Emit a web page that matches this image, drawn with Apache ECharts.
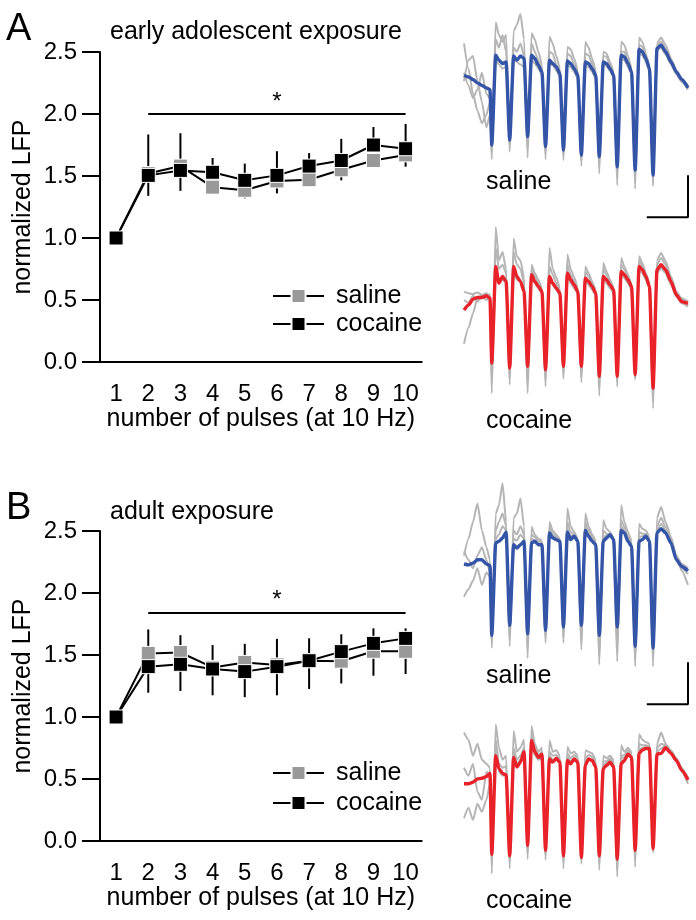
<!DOCTYPE html>
<html><head><meta charset="utf-8">
<script src="https://cdn.jsdelivr.net/npm/echarts@6/dist/echarts.min.js"></script>
<style>html,body{margin:0;padding:0;background:#fff}#c{width:696px;height:920px}</style>
</head><body><div id="c"></div>
<script>
// ---------- summary data ----------
const pulses = ['1','2','3','4','5','6','7','8','9','10'];
const adolSaline   = [1.00, 1.52, 1.58, 1.41, 1.385, 1.46, 1.47, 1.55, 1.625, 1.67];
const adolCocaine  = [1.00, 1.505, 1.545, 1.53, 1.465, 1.505, 1.58, 1.625, 1.75, 1.72];
const adolSalineErr  = [0, 0.18, 0.20, 0.04, 0.065, 0.10, 0.03, 0.085, 0.04, 0.095];
const adolCocaineErr = [0, 0.33, 0.30, 0.115, 0.135, 0.195, 0.105, 0.175, 0.145, 0.20];
const adultSaline  = [1.00, 1.513, 1.52, 1.40, 1.44, 1.42, 1.454, 1.45, 1.53, 1.53];
const adultCocaine = [1.00, 1.406, 1.425, 1.387, 1.366, 1.406, 1.454, 1.527, 1.594, 1.634];
const adultSalineErr  = [0, 0.317, 0.31, 0.225, 0.28, 0.245, 0.228, 0.18, 0.197, 0.183];
const adultCocaineErr = [0, 0.30, 0.235, 0.193, 0.224, 0.224, 0.181, 0.14, 0.121, 0.081];
const adolSig  = ['2', '10', 2.0];
const adultSig = ['2', '10', 1.84];

// ---------- LFP traces (time in ms, voltage in mV) ----------
const traceTimes = [-155,-130,-105,-80,-55,-30,-10,
  0,22,40,60,80, 100,122,140,160,180, 200,222,240,260,280, 300,322,340,360,380,
  400,422,440,460,480, 500,522,540,560,580, 600,622,640,660,680, 700,722,740,760,780,
  800,822,840,860,880, 900,922,945,970,1000,1030,1060,1095];
const scaleBarTimes = [1095, 1095, 865];
const scaleBarVolts = [-1.17, -1.67, -1.67];

const adolSalineMean = [0.02,0,-0.03,-0.07,-0.10,-0.13,-0.15,
  -0.81,0.26,0.20,0.16,0.18, -0.75,0.25,0.20,0.25,0.22, -0.71,0.26,0.22,0.14,0.06,
  -0.83,0.20,0.16,0.12,0.04, -0.87,0.19,0.16,0.10,0.02, -0.93,0.18,0.16,0.10,0.02,
  -0.95,0.18,0.16,0.10,0.02, -1.07,0.26,0.24,0.16,0.06, -1.11,0.33,0.30,0.22,0.10,
  -1.17,0.34,0.38,0.30,0.18,0.06,-0.03,-0.13];
const adolSalineG1 = [0.40,0.10,-0.20,-0.40,-0.55,-0.45,-0.30,
  -0.98,0.65,0.50,0.42,0.50, -0.89,0.55,0.62,0.75,0.45, -0.96,0.52,0.45,0.30,0.15,
  -0.98,0.48,0.40,0.25,0.10, -0.99,0.36,0.33,0.22,0.08, -1.06,0.42,0.35,0.22,0.08,
  -1.15,0.30,0.28,0.18,0.06, -1.29,0.42,0.38,0.25,0.10, -1.33,0.47,0.42,0.28,0.12,
  -1.27,0.40,0.47,0.38,0.22,0.08,-0.02,-0.10];
const adolSalineG2 = [-0.05,0.20,0.25,-0.05,-0.30,-0.60,-0.45,
  -0.90,0.45,0.35,0.50,0.30, -0.85,0.35,0.30,0.40,0.25, -0.85,0.40,0.30,0.20,0.08,
  -0.92,0.30,0.28,0.15,0.05, -0.95,0.28,0.25,0.15,0.04, -1.00,0.28,0.26,0.16,0.05,
  -1.05,0.25,0.24,0.14,0.03, -1.20,0.30,0.30,0.20,0.08, -1.25,0.38,0.36,0.24,0.10,
  -1.30,0.36,0.42,0.34,0.20,0.06,-0.04,-0.12];
const adolSalineG3 = [0.05,-0.10,-0.25,-0.15,0.05,-0.20,-0.25,
  -0.85,0.20,0.15,0.10,0.12, -0.80,0.22,0.18,0.15,0.12, -0.78,0.20,0.16,0.10,0.02,
  -0.88,0.16,0.14,0.08,0.00, -0.92,0.15,0.12,0.06,-0.02, -0.98,0.14,0.12,0.06,-0.02,
  -1.00,0.15,0.13,0.07,0.00, -1.10,0.22,0.20,0.12,0.03, -1.15,0.28,0.26,0.18,0.06,
  -1.20,0.32,0.35,0.27,0.15,0.03,-0.06,-0.15];

const adolCocaineMean = [-0.14,-0.08,-0.01,0.01,0.01,0.03,0,
  -0.77,0.38,0.18,0.26,0.20, -0.83,0.38,0.26,0.20,0.08, -0.81,0.28,0.20,0.14,0.08,
  -0.85,0.26,0.18,0.12,0.06, -0.81,0.30,0.22,0.16,0.08, -0.81,0.24,0.20,0.14,0.06,
  -0.93,0.26,0.22,0.16,0.10, -0.93,0.32,0.28,0.22,0.14, -0.91,0.38,0.34,0.26,0.14,
  -1.07,0.34,0.40,0.34,0.20,0.04,-0.04,-0.06];
const adolCocaineG1 = [0.08,0.06,0.05,0.07,0.04,0.06,0.02,
  -1.13,0.85,0.45,0.55,0.35, -1.03,0.71,0.50,0.45,0.25, -1.13,0.40,0.30,0.22,0.12,
  -1.05,0.60,0.35,0.25,0.12, -0.96,0.52,0.35,0.25,0.12, -1.00,0.38,0.30,0.20,0.10,
  -1.16,0.42,0.32,0.22,0.12, -1.05,0.48,0.38,0.28,0.16, -0.97,0.50,0.42,0.30,0.16,
  -1.31,0.45,0.54,0.44,0.26,0.08,0.00,-0.04];
const adolCocaineG2 = [-0.54,-0.35,-0.18,0.00,0.04,0.02,0.05,
  -1.00,0.60,0.35,0.40,0.30, -0.95,0.55,0.40,0.35,0.18, -1.00,0.35,0.26,0.18,0.10,
  -0.98,0.38,0.28,0.18,0.08, -0.92,0.40,0.28,0.20,0.10, -0.95,0.32,0.26,0.18,0.08,
  -1.05,0.35,0.28,0.20,0.12, -1.00,0.40,0.34,0.26,0.15, -0.95,0.45,0.38,0.28,0.15,
  -1.20,0.40,0.48,0.40,0.24,0.06,-0.02,-0.08];
const adolCocaineG3 = [-0.02,-0.05,0.03,-0.04,0.02,-0.02,0.03,
  -0.90,0.30,0.20,0.22,0.18, -0.90,0.30,0.22,0.20,0.10, -0.92,0.25,0.18,0.12,0.06,
  -0.92,0.22,0.16,0.10,0.04, -0.88,0.25,0.18,0.12,0.06, -0.90,0.20,0.16,0.10,0.04,
  -1.00,0.22,0.18,0.12,0.06, -0.98,0.28,0.24,0.18,0.10, -0.93,0.33,0.30,0.22,0.12,
  -1.12,0.30,0.36,0.30,0.16,0.02,-0.06,-0.10];

const adultSalineMean = [0,-0.01,0.01,0.05,0.05,0,-0.02,
  -0.85,0.25,0.27,0.31,0.38, -0.73,0.23,0.19,0.23,0.27, -0.83,0.25,0.27,0.23,0.23,
  -0.79,0.37,0.31,0.29,0.27, -0.75,0.38,0.29,0.33,0.27, -0.73,0.40,0.33,0.27,0.23,
  -0.85,0.27,0.31,0.35,0.29, -0.75,0.40,0.37,0.27,0.21, -0.98,0.27,0.29,0.33,0.27,
  -1.00,0.37,0.42,0.37,0.25,0.05,-0.03,-0.08];
const adultSalineG1 = [0.10,0.30,0.50,0.72,0.40,0.20,0.05,
  -1.00,0.60,0.70,0.96,0.50, -0.98,0.55,0.60,0.78,0.45, -1.12,0.44,0.35,0.30,0.28,
  -0.94,0.50,0.40,0.35,0.30, -0.94,0.66,0.45,0.38,0.30, -1.02,0.60,0.45,0.35,0.28,
  -1.20,0.52,0.42,0.38,0.30, -1.16,0.70,0.50,0.38,0.28, -1.22,0.48,0.42,0.40,0.32,
  -1.22,0.55,0.68,0.50,0.32,0.10,0.00,-0.05];
const adultSalineG2 = [-0.39,-0.30,-0.20,-0.05,-0.25,-0.10,-0.15,
  -0.95,0.40,0.50,0.60,0.45, -0.90,0.40,0.35,0.45,0.35, -1.00,0.35,0.32,0.28,0.25,
  -0.90,0.45,0.36,0.32,0.28, -0.88,0.50,0.38,0.35,0.28, -0.95,0.50,0.40,0.32,0.25,
  -1.10,0.40,0.36,0.34,0.28, -1.05,0.52,0.44,0.32,0.24, -1.15,0.38,0.36,0.36,0.28,
  -1.15,0.45,0.55,0.44,0.28,0.08,-0.08,-0.25];
const adultSalineG3 = [0.15,0.05,-0.05,0.10,0.20,0.05,-0.10,
  -0.90,0.30,0.35,0.45,0.40, -0.85,0.30,0.28,0.35,0.30, -0.95,0.30,0.28,0.25,0.22,
  -0.85,0.40,0.33,0.30,0.27, -0.82,0.42,0.33,0.35,0.27, -0.85,0.44,0.36,0.30,0.24,
  -1.00,0.32,0.34,0.36,0.28, -0.90,0.45,0.40,0.30,0.22, -1.10,0.32,0.33,0.35,0.28,
  -1.10,0.40,0.48,0.40,0.26,0.04,-0.05,-0.12];

const adultCocaineMean = [0,0,0.02,0.06,0.07,0.09,0.13,
  -0.88,0.35,0.19,0.13,0.11, -0.90,0.33,0.21,0.27,0.40, -0.77,0.54,0.40,0.33,0.37,
  -0.83,0.31,0.27,0.32,0.27, -0.90,0.29,0.25,0.31,0.27, -0.92,0.23,0.31,0.29,0.21,
  -0.90,0.19,0.23,0.27,0.21, -0.94,0.25,0.29,0.37,0.33, -0.83,0.38,0.42,0.44,0.44,
  -0.81,0.37,0.38,0.45,0.38,0.29,0.17,0.05];
const adultCocaineG1 = [0.64,0.55,0.35,0.50,0.30,0.25,0.20,
  -1.12,0.74,0.45,0.30,0.35, -1.06,0.66,0.40,0.45,0.55, -0.94,0.72,0.50,0.40,0.45,
  -0.95,0.54,0.40,0.42,0.35, -1.06,0.46,0.38,0.40,0.35, -1.00,0.42,0.40,0.38,0.30,
  -1.08,0.35,0.32,0.35,0.30, -1.16,0.48,0.40,0.45,0.40, -1.04,0.62,0.55,0.52,0.50,
  -0.86,0.50,0.64,0.50,0.40,0.28,0.18,0.08];
const adultCocaineG2 = [-0.43,-0.30,-0.45,-0.25,-0.35,-0.20,0.00,
  -1.00,0.55,0.25,0.20,0.22, -0.98,0.45,0.30,0.35,0.45, -0.88,0.60,0.45,0.36,0.40,
  -0.90,0.40,0.35,0.36,0.30, -0.98,0.38,0.32,0.36,0.32, -0.96,0.32,0.36,0.34,0.26,
  -1.00,0.28,0.28,0.32,0.26, -1.08,0.35,0.36,0.42,0.38, -0.95,0.50,0.48,0.48,0.47,
  -0.84,0.45,0.50,0.48,0.40,0.30,0.15,0.00];
const adultCocaineG3 = [0.20,0.10,0.25,-0.10,-0.20,0.15,0.10,
  -0.95,0.45,0.15,0.10,0.12, -0.95,0.40,0.25,0.30,0.35, -0.85,0.45,0.36,0.30,0.32,
  -0.88,0.35,0.30,0.30,0.25, -0.95,0.34,0.28,0.32,0.28, -0.95,0.28,0.30,0.30,0.22,
  -0.95,0.24,0.26,0.30,0.24, -1.00,0.32,0.33,0.40,0.35, -0.90,0.42,0.45,0.46,0.45,
  -0.82,0.40,0.44,0.48,0.42,0.32,0.20,0.04];

// ---------- chart ----------
const FONT = 'Liberation Sans';
const chart = echarts.init(document.getElementById('c'), null, {renderer: 'canvas'});

const mainGrids = [{left:100, top:52, width:321.7, height:310}, {left:100, top:531, width:321.7, height:310}];
const traceGrids = [
  {left:464, top:1.4, width:224, height:218.4},
  {left:464, top:222.7, width:224, height:218.4},
  {left:464, top:488.4, width:224, height:218.4},
  {left:464, top:711.7, width:224, height:218.4}
];
const grids = [mainGrids[0], traceGrids[0], traceGrids[1], mainGrids[1], traceGrids[2], traceGrids[3]];

const xAxes = [], yAxes = [], series = [];
function mainAxes(gi){
  xAxes.push({type:'category', gridIndex:gi, data:pulses, boundaryGap:true,
    axisLine:{lineStyle:{color:'#000', width:2}},
    axisTick:{length:17, interval:0, lineStyle:{width:2, color:'#000'}},
    axisLabel:{color:'#000', fontSize:24, fontFamily:FONT, margin:20, interval:0},
    splitLine:{show:false},
    name:'number of pulses (at 10 Hz)', nameLocation:'middle', nameGap:45,
    nameTextStyle:{color:'#000', fontSize:25, fontFamily:FONT}});
  yAxes.push({type:'value', gridIndex:gi, min:0, max:2.5, interval:0.5,
    axisLine:{show:true, lineStyle:{color:'#000', width:2}},
    axisTick:{show:true, length:18, lineStyle:{width:2, color:'#000'}},
    splitLine:{show:false},
    axisLabel:{color:'#000', fontSize:24, fontFamily:FONT, margin:23, formatter:v=>v.toFixed(1)},
    name:'normalized LFP', nameLocation:'middle', nameGap:64,
    nameTextStyle:{color:'#000', fontSize:25, fontFamily:FONT}});
}
function traceAxes(gi){
  xAxes.push({type:'value', gridIndex:gi, min:-155, max:1095, show:false});
  yAxes.push({type:'value', gridIndex:gi, min:-1.7, max:0.9, show:false});
}
mainAxes(0); traceAxes(1); traceAxes(2); mainAxes(3); traceAxes(4); traceAxes(5);

function errSeries(ax, vals, errs, dir){
  const data = [];
  vals.forEach((v,i)=>{ if (errs[i] > 0) data.push([i, v, v + dir*errs[i]]); });
  return {type:'custom', xAxisIndex:ax, yAxisIndex:ax, data, z:2, silent:true, clip:false,
    renderItem:(params, api)=>{
      const a = api.coord([api.value(0), api.value(1)]);
      const b = api.coord([api.value(0), api.value(2)]);
      return {type:'line', shape:{x1:a[0], y1:a[1], x2:b[0], y2:b[1]},
        style:{stroke:'#000', lineWidth:2}};
    }};
}
function mainSeries(ax, sal, coc, salErr, cocErr, sig){
  series.push(errSeries(ax, sal, salErr, -1));
  series.push(errSeries(ax, coc, cocErr, 1));
  series.push({type:'line', name:'saline', xAxisIndex:ax, yAxisIndex:ax, data:sal,
    symbol:'rect', symbolSize:14, z:3,
    lineStyle:{color:'#000', width:2},
    itemStyle:{color:'#999', borderColor:'#fff', borderWidth:1}});
  series.push({type:'line', name:'cocaine', xAxisIndex:ax, yAxisIndex:ax, data:coc,
    symbol:'rect', symbolSize:14, z:4,
    lineStyle:{color:'#000', width:2},
    itemStyle:{color:'#000', borderColor:'#fff', borderWidth:1},
    markLine:{silent:true, symbol:'none', animation:false,
      lineStyle:{color:'#000', width:2, type:'solid'},
      label:{show:true, position:'middle', formatter:'*', color:'#000', fontSize:24, fontFamily:FONT, distance:0},
      data:[[{coord:[sig[0], sig[2]]}, {coord:[sig[1], sig[2]]}]]}});
}
mainSeries(0, adolSaline, adolCocaine, adolSalineErr, adolCocaineErr, adolSig);
mainSeries(3, adultSaline, adultCocaine, adultSalineErr, adultCocaineErr, adultSig);

function pairs(t, v){ return t.map((x,i)=>[x, v[i]]); }
function traceSeries(ax, grays, mean, color, withBar){
  grays.forEach(g=>series.push({type:'line', xAxisIndex:ax, yAxisIndex:ax, data:pairs(traceTimes, g),
    symbol:'none', silent:true, clip:false, z:2, smooth:0.2, smoothMonotone:'x',
    lineStyle:{color:'#b5b5b5', width:2}}));
  series.push({type:'line', xAxisIndex:ax, yAxisIndex:ax, data:pairs(traceTimes, mean),
    symbol:'none', silent:true, clip:false, z:3, smooth:0.2, smoothMonotone:'x',
    lineStyle:{color:color, width:3.4, join:'round'}});
  if (withBar) series.push({type:'line', xAxisIndex:ax, yAxisIndex:ax, data:pairs(scaleBarTimes, scaleBarVolts),
    symbol:'none', silent:true, clip:false, z:3, lineStyle:{color:'#000', width:2}});
}
const BLUE = '#3454a8', RED = '#e9222a';
traceSeries(1, [adolSalineG1, adolSalineG2, adolSalineG3], adolSalineMean, BLUE, true);
traceSeries(2, [adolCocaineG1, adolCocaineG2, adolCocaineG3], adolCocaineMean, RED, false);
traceSeries(4, [adultSalineG1, adultSalineG2, adultSalineG3], adultSalineMean, BLUE, true);
traceSeries(5, [adultCocaineG1, adultCocaineG2, adultCocaineG3], adultCocaineMean, RED, false);

function legend(top, gap){
  return {orient:'vertical', left:272, top:top, padding:0, itemGap:gap, itemWidth:51, itemHeight:17.5,
    selectedMode:false, data:['saline','cocaine'],
    textStyle:{color:'#000', fontSize:25, fontFamily:FONT, padding:[0,0,0,7]}};
}

function txt(s, x, y, size){
  return {type:'text', x:x, y:y, silent:true,
    style:{text:s, fill:'#000', font:'normal ' + size + 'px "' + FONT + '"', align:'left', verticalAlign:'middle'}};
}

chart.setOption({
  animation:false,
  backgroundColor:'#fff',
  grid:grids,
  xAxis:xAxes, yAxis:yAxes,
  legend:[legend(283.5, 3), legend(760.5, 5)],
  series:series,
  graphic:[
    txt('A', 6, 29.5, 38),
    txt('early adolescent exposure', 110, 32, 25),
    txt('saline', 486, 182, 25),
    txt('cocaine', 486, 421, 25),
    txt('B', 6, 509, 38),
    txt('adult exposure', 110, 512, 25),
    txt('saline', 486, 676, 25),
    txt('cocaine', 486, 901, 25)
  ]
});
</script>
</body></html>
